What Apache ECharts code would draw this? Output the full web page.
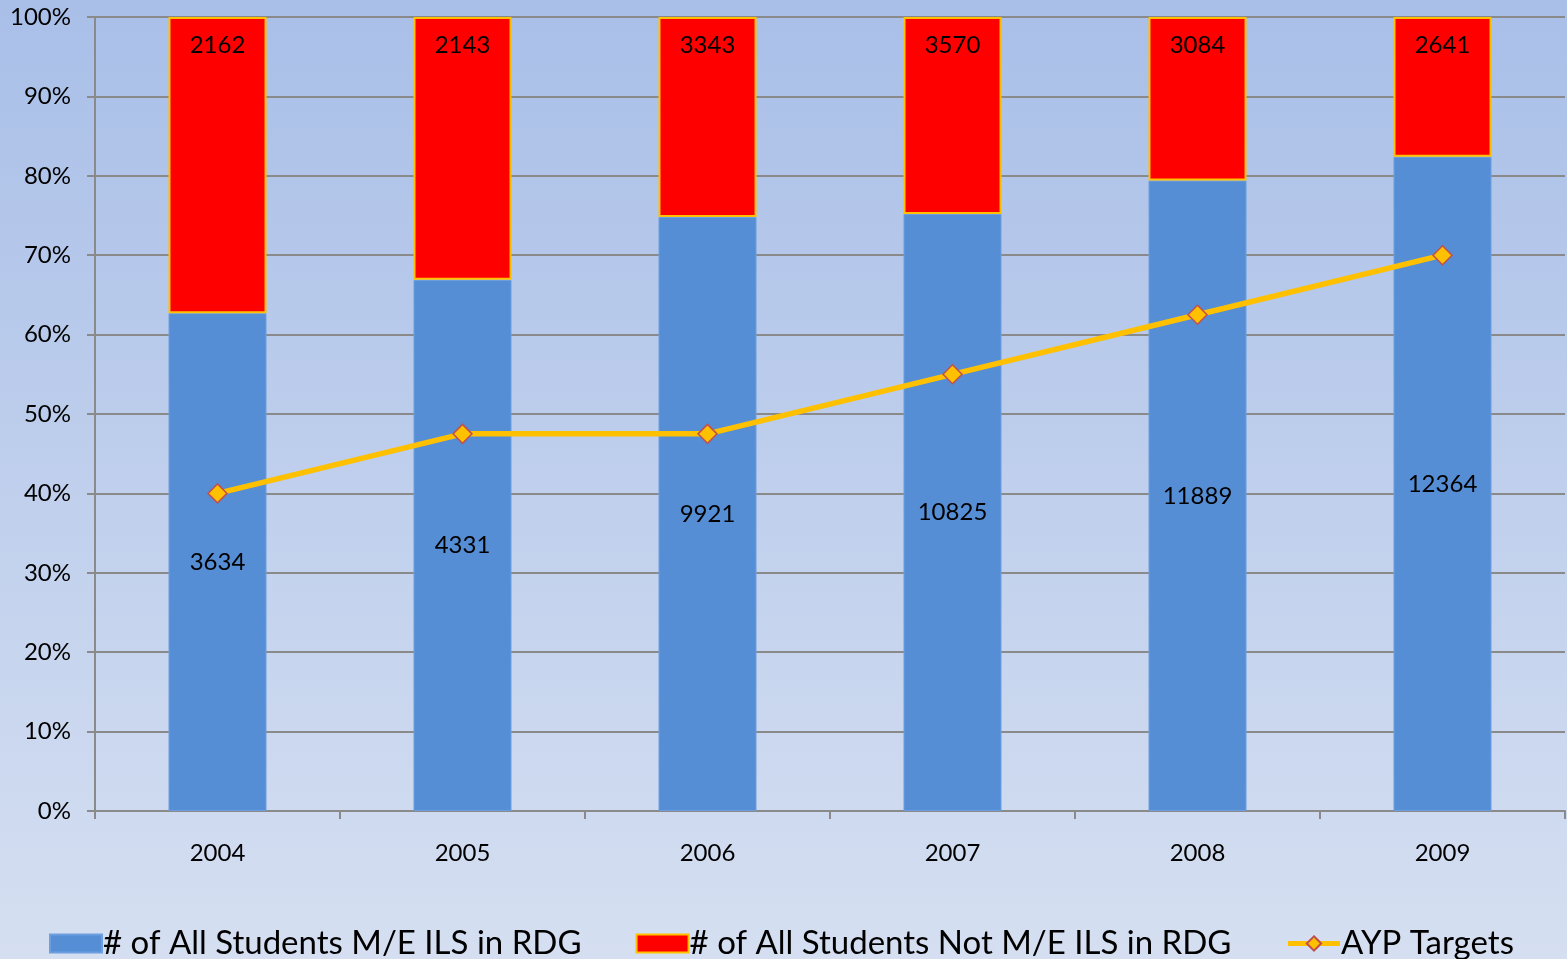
<!DOCTYPE html>
<html>
<head>
<meta charset="utf-8">
<script src="https://cdn.jsdelivr.net/npm/echarts@6/dist/echarts.min.js"></script>
<style>
  html, body { margin: 0; padding: 0; width: 100%; height: 100%; }
  #chart { width: 1567px; height: 959px; }
</style>
</head>
<body>
<div id="chart"></div>
<script>
// School years
const years = ['2004', '2005', '2006', '2007', '2008', '2009'];
// Students meeting / exceeding ILS in reading
const meetCounts = [3634, 4331, 9921, 10825, 11889, 12364];
// Students not meeting / exceeding ILS in reading
const notMeetCounts = [2162, 2143, 3343, 3570, 3084, 2641];
// AYP target percentages
const aypTargets = [40, 47.5, 47.5, 55, 62.5, 70];

// Share of each year's total, for the 100% stacked columns
const totals = meetCounts.map((v, i) => v + notMeetCounts[i]);
const meetPct = meetCounts.map((v, i) => ({ value: v / totals[i] * 100, count: v }));
const notMeetPct = notMeetCounts.map((v, i) => ({ value: v / totals[i] * 100, count: v }));

const FONT = 'Lato, "Open Sans", sans-serif';
const GRID_GRAY = '#8a8a8a';

const chart = echarts.init(document.getElementById('chart'));
chart.setOption({
  backgroundColor: {
    type: 'linear', x: 0, y: 0, x2: 0, y2: 1,
    colorStops: [
      { offset: 0, color: '#a9bfe8' },
      { offset: 1, color: '#d5dff1' }
    ]
  },
  textStyle: { fontFamily: FONT },
  animation: false,
  grid: { left: 95, right: 2, top: 17, bottom: 148, containLabel: false },
  legend: {
    left: 44,
    top: 922,
    itemWidth: 52,
    itemHeight: 18,
    itemGap: 54,
    textStyle: { fontFamily: FONT, fontSize: 33, color: '#000', padding: [0, 0, 0, -4] },
    data: [
      { name: '# of All Students M/E ILS in RDG', icon: 'rect' },
      { name: '# of All Students Not M/E ILS in RDG', icon: 'rect' },
      { name: 'AYP Targets', lineStyle: { width: 5, color: '#ffc000' } }
    ]
  },
  xAxis: {
    type: 'category',
    data: years,
    axisLine: { lineStyle: { color: GRID_GRAY, width: 2 } },
    axisTick: { show: true, length: 8, lineStyle: { color: GRID_GRAY, width: 2 } },
    axisLabel: { fontSize: 24, color: '#000', margin: 30, fontFamily: FONT }
  },
  yAxis: {
    type: 'value',
    min: 0,
    max: 100,
    interval: 10,
    axisLine: { show: true, lineStyle: { color: GRID_GRAY, width: 2 } },
    axisTick: { show: true, length: 8, lineStyle: { color: GRID_GRAY, width: 2 } },
    axisLabel: { formatter: '{value}%', fontSize: 24, color: '#000', margin: 24, fontFamily: FONT },
    splitLine: { lineStyle: { color: GRID_GRAY, width: 2 } }
  },
  series: [
    {
      name: '# of All Students M/E ILS in RDG',
      type: 'bar',
      stack: 'total',
      barWidth: '40%',
      data: meetPct,
      itemStyle: { color: '#558ed5', borderColor: '#6c9ee0', borderWidth: 1 },
      label: {
        show: true,
        position: 'inside',
        fontSize: 24,
        color: '#000',
        fontFamily: FONT,
        formatter: p => String(p.data.count)
      },
      z: 2
    },
    {
      name: '# of All Students Not M/E ILS in RDG',
      type: 'bar',
      stack: 'total',
      barWidth: '40%',
      data: notMeetPct,
      itemStyle: { color: '#ff0000', borderColor: '#ffc000', borderWidth: 2 },
      label: {
        show: true,
        position: 'insideTop',
        distance: 16,
        fontSize: 24,
        color: '#000',
        fontFamily: FONT,
        formatter: p => String(p.data.count)
      },
      z: 2
    },
    {
      name: 'AYP Targets',
      type: 'line',
      data: aypTargets,
      symbol: 'diamond',
      symbolSize: 19,
      lineStyle: { color: '#ffc000', width: 5.5 },
      itemStyle: { color: '#ffc000', borderColor: '#c0504d', borderWidth: 1.5 },
      z: 5
    }
  ]
});
</script>
</body>
</html>
